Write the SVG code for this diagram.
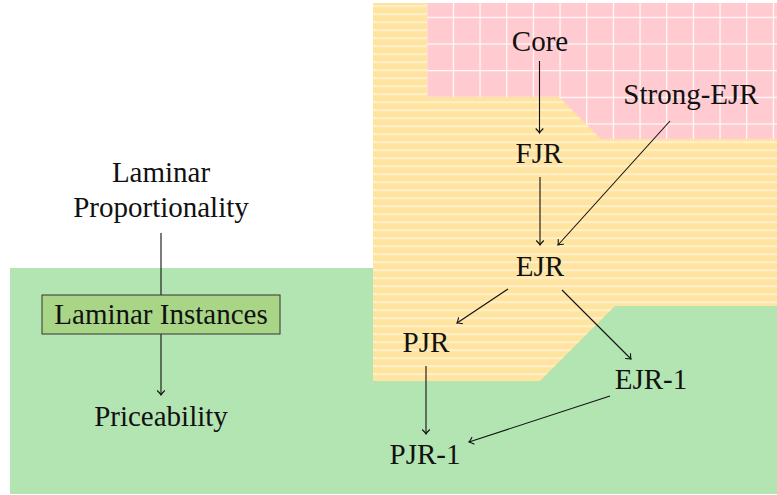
<svg xmlns="http://www.w3.org/2000/svg" width="777" height="495" viewBox="0 0 777 495">
<style>
  .lbl { font-family: "Liberation Serif", "DejaVu Serif", "Times New Roman", serif; font-size: 29px; fill: #111; text-anchor: middle; }
  .edge { stroke: #111; stroke-width: 1.1; fill: none; marker-end: url(#arr); }
</style>
<defs>
  <marker id="arr" markerUnits="userSpaceOnUse" markerWidth="12" markerHeight="12" viewBox="-6 -6 12 12" refX="0" refY="0" orient="auto">
    <path d="M-4.5,-3.8 Q-1.5,-0.8 0,0 Q-1.5,0.8 -4.5,3.8" fill="none" stroke="#111" stroke-width="1.1"/>
  </marker>
  <pattern id="grid" patternUnits="userSpaceOnUse" x="-0.5" y="16.8" width="26.667" height="26.667">
    <rect width="26.667" height="26.667" fill="#ffcbd1"/>
    <rect x="0" y="0" width="1.1" height="26.667" fill="#ffffff"/>
    <rect x="0" y="0" width="26.667" height="1.1" fill="#ffffff"/>
  </pattern>
  <pattern id="stripes" patternUnits="userSpaceOnUse" x="0" y="5.3" width="40" height="8">
    <rect width="40" height="8" fill="#ffe4a0"/>
    <rect x="0" y="0" width="40" height="1.6" fill="#fff2d6"/>
  </pattern>
</defs>

<g id="regions">
  <rect id="region-green" x="10" y="268" width="767" height="226" fill="#b3e5b3"/>
  <polygon id="region-yellow" points="373,3 777,3 777,306 615,306 540,381 373,381" fill="url(#stripes)"/>
  <polygon id="region-pink" points="427,3 777,3 777,139 601,139 559,97 427,97" fill="url(#grid)"/>
</g>

<g id="connectors">
  <line class="edge" x1="539.5" y1="61" x2="539.5" y2="133"/>
  <line class="edge" x1="540" y1="177" x2="540" y2="245"/>
  <line class="edge" x1="670" y1="121" x2="558" y2="245"/>
  <line class="edge" x1="508" y1="289" x2="457" y2="323"/>
  <line class="edge" x1="562" y1="290" x2="631" y2="359"/>
  <line class="edge" x1="426" y1="366" x2="426" y2="434"/>
  <line class="edge" x1="610" y1="396" x2="469" y2="442"/>
  <line class="edge" x1="161" y1="233" x2="161" y2="395"/>
</g>

<g id="node-core"><text class="lbl" x="540" y="51">Core</text></g>
<g id="node-strong-ejr"><text class="lbl" x="691" y="104">Strong-EJR</text></g>
<g id="node-fjr"><text class="lbl" x="539" y="163">FJR</text></g>
<g id="node-ejr"><text class="lbl" x="540" y="276">EJR</text></g>
<g id="node-pjr"><text class="lbl" x="426" y="352">PJR</text></g>
<g id="node-ejr-1"><text class="lbl" x="651" y="389">EJR-1</text></g>
<g id="node-pjr-1"><text class="lbl" x="425" y="464">PJR-1</text></g>
<g id="node-laminar-proportionality">
  <text class="lbl" x="161" y="182">Laminar</text>
  <text class="lbl" x="161" y="217">Proportionality</text>
</g>
<g id="node-laminar-instances">
  <rect x="42" y="295" width="238" height="39" fill="#a9d587" stroke="#333" stroke-width="1"/>
  <text class="lbl" x="161" y="324">Laminar Instances</text>
</g>
<g id="node-priceability"><text class="lbl" x="161" y="426">Priceability</text></g>
</svg>
